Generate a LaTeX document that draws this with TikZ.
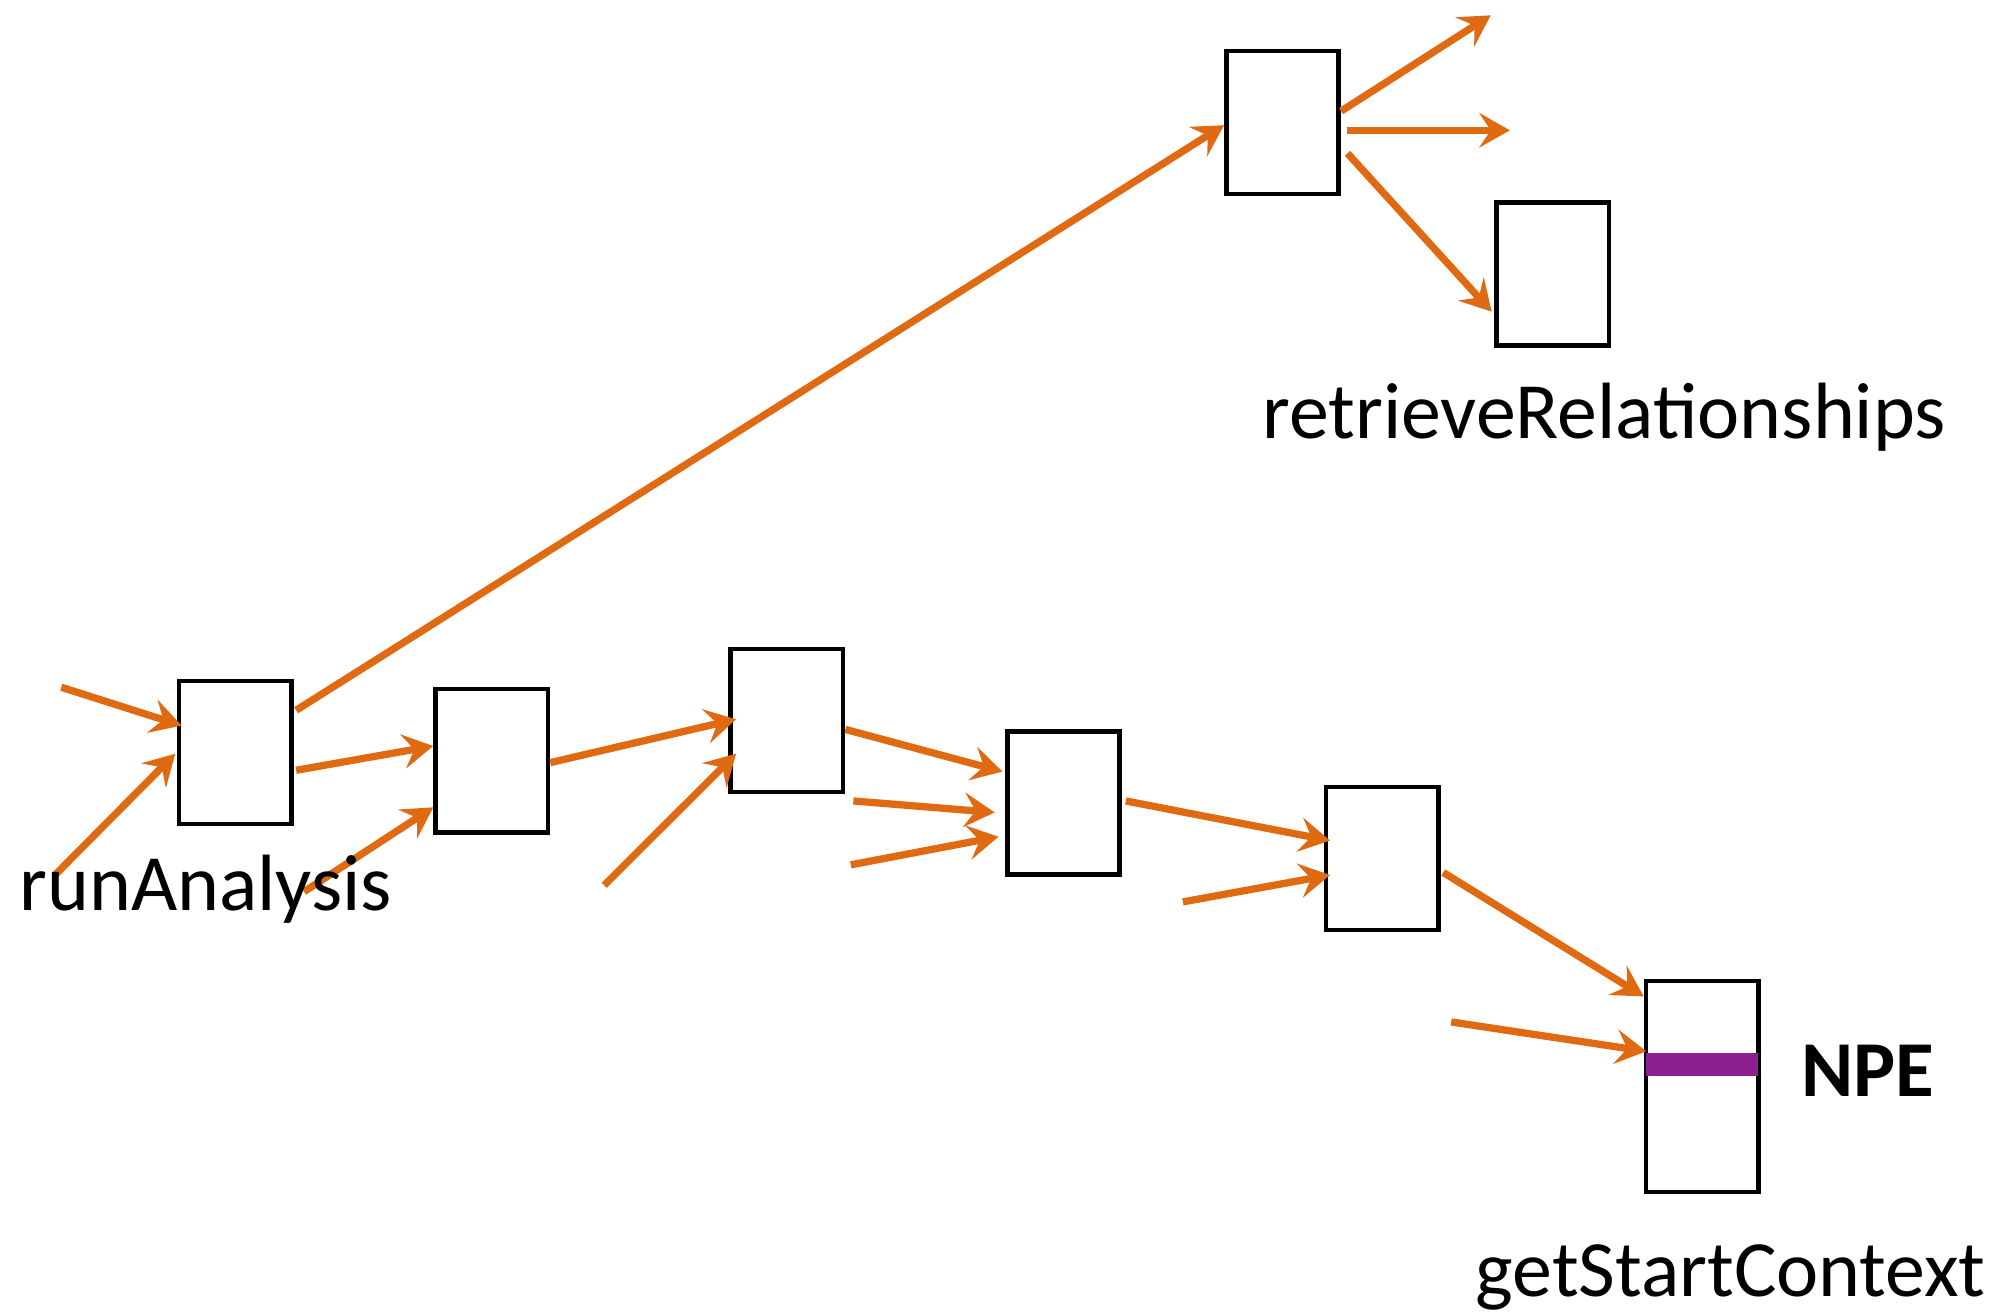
\documentclass[tikz,border=0pt]{standalone}
\usepackage{fontspec}
\setmainfont{Carlito}
\usetikzlibrary{arrows.meta,calc}
\definecolor{callorange}{HTML}{E06A12}
\definecolor{npepurple}{HTML}{8E1F8E}
\begin{document}
\begin{tikzpicture}[x=1pt,y=-1pt,
  frame/.style={draw=black,line width=3.6pt,minimum width=88pt,minimum height=112pt,inner sep=0pt},
  call/.style={draw=callorange,line width=5.7pt,-{Stealth[length=24pt,width=27pt,inset=9pt]}},
  label/.style={font=\fontsize{62.5}{66}\selectfont,anchor=base west,inner sep=0pt}]
\useasboundingbox (0,0) rectangle (1568,1030);

% stack frames
\node[frame] (A) at (184,589) {};
\node[frame] (B) at (385,595.5) {};
\node[frame] (C) at (616,564) {};
\node[frame] (D) at (832.5,628.5) {};
\node[frame] (E) at (1082,672) {};
\node[frame] (F) at (1004,96) {};
\node[frame] (G) at (1215.5,214.5) {};
\node[frame,minimum height=165pt] (H) at (1332.5,850.5) {};

% failing line inside getStartContext
\fill[npepurple] ($(H.west)+(2,-26)$) rectangle ($(H.east)+(-2,-8)$);

% loose ends of incoming and outgoing calls
\coordinate (c1) at (48,538);
\coordinate (c2) at (43,685);
\coordinate (c4) at (238,698);
\coordinate (c7) at (473,693);
\coordinate (c9) at (668,627);
\coordinate (c10) at (666,677);
\coordinate (c12) at (926,706);
\coordinate (c14) at (1136,800);
\coordinate (c15) at (1167,12);
\coordinate (c16) at (1182,102);

% calls
\draw[call] (c1) -- ($(A.west)+(4,-21)$);
\draw[call] (c2) -- ($(A.west)+(-1,1)$);
\draw[call] ($(A.east)+(2,14)$) -- ($(B.west)+(0,-11.5)$);
\draw[call] (c4) -- ($(B.west)+(0,36.5)$);
\draw[call] ($(A.east)+(2,-33)$) -- ($(F.west)+(0,2)$);
\draw[call] ($(B.east)+(0,1.5)$) -- ($(C.west)+(6,-1)$);
\draw[call] (c7) -- ($(C.west)+(6,26)$);
\draw[call] ($(C.east)+(0,7)$) -- ($(D.west)+(-2,-24.5)$);
\draw[call] (c9) -- ($(D.west)+(-8,7.5)$);
\draw[call] (c10) -- ($(D.west)+(-5,26.5)$);
\draw[call] ($(D.east)+(3,-1.5)$) -- ($(E.west)+(5,-14)$);
\draw[call] (c12) -- ($(E.west)+(5,13)$);
\draw[call] ($(E.east)+(2,11)$) -- ($(H.west)+(0,-70.5)$);
\draw[call] (c14) -- ($(H.west)+(2,-27.5)$);
\draw[call] ($(F.east)+(0,-9)$) -- (c15);
\draw[call] ($(F.east)+(5,6)$) -- (c16);
\draw[call] ($(F.east)+(5,24)$) -- ($(G.west)+(-2,29.5)$);

% method names
\node[label] (tRun) at (15,713) {runAnalysis};
\node[label] (tRet) at (988,343) {retrieveRelationships};
\node[label] (tGet) at (1155,1015) {getStartContext};
\node[label,font=\fontsize{62}{64}\selectfont\bfseries] (tNpe) at (1410,858) {NPE};
\end{tikzpicture}
\end{document}
